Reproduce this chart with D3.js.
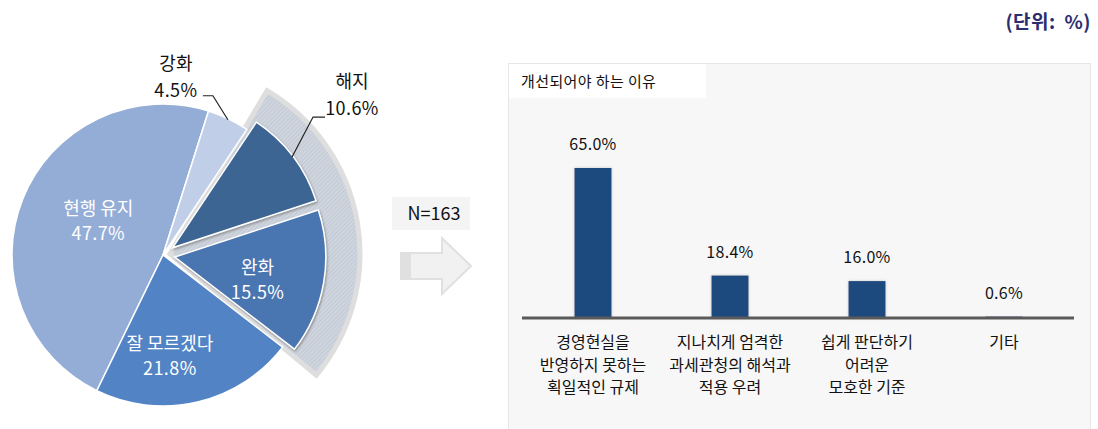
<!DOCTYPE html>
<html><head><meta charset="utf-8">
<script src="https://cdn.jsdelivr.net/npm/d3@7"></script>
<style>
body{margin:0;background:#fff;}
text{font-family:"Noto Sans CJK KR","Noto Sans",sans-serif;}
</style>
</head><body>
<svg id="c" width="1098" height="429"></svg>
<script>
// ---- data ----
const pieLabels = ["현행 유지", "강화", "해지", "완화", "잘 모르겠다"];
const pieValues = [47.7, 4.5, 10.6, 15.5, 21.8];
const barCategories = [
  ["경영현실을", "반영하지 못하는", "획일적인 규제"],
  ["지나치게 엄격한", "과세관청의 해석과", "적용 우려"],
  ["쉽게 판단하기", "어려운", "모호한 기준"],
  ["기타"]
];
const barValues = [65.0, 18.4, 16.0, 0.6];
const sampleLabel = "N=163";
const barTitle = "개선되어야 하는 이유";
const unitLabel = "(단위: %)";

// ---- style / layout ----
const pieColors = ["#94add6", "#c0cee8", "#3d6593", "#4874b0", "#5283c4"];
const explodedIdx = [2, 3];
const deg = Math.PI / 180;
const cx = 163, cy = 255, R = 151, explodeDist = 12;
const inside = {0: {r: 74, nudge: [4, -7]}, 3: {r: 86, nudge: [-2, 8]}, 4: {r: 100, nudge: [-16, 4]}};
const outside = {1: {elbow: [-15, -24], run: -10, tdx: -27, tdy: -5}, 2: {elbow: [21, -40], run: 12, tdx: 27, tdy: -8}};

const svg = d3.select("#c");
const defs = svg.append("defs");
const pat = defs.append("pattern").attr("id", "hatch").attr("patternUnits", "userSpaceOnUse")
  .attr("width", 3).attr("height", 3).attr("patternTransform", "rotate(45)");
pat.append("rect").attr("width", 3).attr("height", 3).attr("fill", "#cfd5de");
pat.append("line").attr("x1", 0).attr("y1", 0).attr("x2", 0).attr("y2", 3).attr("stroke", "#b7bfcb").attr("stroke-width", 1);
const sh = defs.append("filter").attr("id", "sh").attr("x", "-20%").attr("y", "-20%").attr("width", "140%").attr("height", "140%");
sh.append("feDropShadow").attr("dx", 1).attr("dy", 1.5).attr("stdDeviation", 1).attr("flood-color", "#666").attr("flood-opacity", 0.6);
const bsh = defs.append("filter").attr("id", "bsh").attr("x", "-30%").attr("y", "-10%").attr("width", "160%").attr("height", "120%");
bsh.append("feDropShadow").attr("dx", 0).attr("dy", 0).attr("stdDeviation", 1.5).attr("flood-color", "#999").attr("flood-opacity", 0.5);

// ---- pie ----
const pie = d3.pie().sort(null).startAngle(-154 * deg).endAngle(206 * deg);
const arcs = pie(pieValues);
const arc = d3.arc().innerRadius(0).outerRadius(R);
const mid = d => (d.startAngle + d.endAngle) / 2;
const offsetOf = (d, i) => explodedIdx.includes(i) ? [explodeDist * Math.sin(mid(d)), -explodeDist * Math.cos(mid(d))] : [0, 0];

const pg = svg.append("g").attr("transform", `translate(${cx},${cy})`);

// hatched band behind exploded slices
const ex0 = arcs[explodedIdx[0]], ex1 = arcs[explodedIdx[explodedIdx.length - 1]];
pg.append("path")
  .attr("transform", "translate(7,-1)")
  .attr("d", d3.arc().innerRadius(0).outerRadius(R + 39)({startAngle: ex0.startAngle - 3 * deg, endAngle: ex1.endAngle + 2 * deg}))
  .attr("fill", "url(#hatch)").attr("stroke", "#dedede").attr("stroke-width", 5).attr("stroke-linejoin", "miter");

pg.selectAll("path.slice").data(arcs).enter().append("path")
  .attr("class", "slice")
  .attr("transform", (d, i) => { const o = offsetOf(d, i); return `translate(${o[0]},${o[1]})`; })
  .attr("d", arc)
  .attr("fill", (d, i) => pieColors[i])
  .attr("stroke", "#fff").attr("stroke-width", 1.5)
  .attr("filter", (d, i) => explodedIdx.includes(i) ? "url(#sh)" : null);

// inside labels
arcs.forEach((d, i) => {
  const cfg = inside[i];
  if (!cfg) return;
  const o = offsetOf(d, i);
  const c = d3.arc().innerRadius(cfg.r).outerRadius(cfg.r).centroid(d);
  const x = c[0] + o[0] + cfg.nudge[0], y = c[1] + o[1] + cfg.nudge[1];
  const t = pg.append("text").attr("text-anchor", "middle").attr("fill", "#fff").attr("font-size", 18);
  t.append("tspan").attr("x", x).attr("y", y - 12 + 6).text(pieLabels[i]);
  t.append("tspan").attr("x", x).attr("y", y + 13 + 6).attr("letter-spacing", 0.4).text(d3.format(".1f")(pieValues[i]) + "%");
});

// outside labels with leaders
arcs.forEach((d, i) => {
  const cfg = outside[i];
  if (!cfg) return;
  const o = offsetOf(d, i);
  const a = d3.arc().innerRadius(R - 1).outerRadius(R - 1).centroid(d);
  const ax = a[0] + o[0], ay = a[1] + o[1];
  const ex = ax + cfg.elbow[0], ey = ay + cfg.elbow[1];
  const endx = ex + cfg.run;
  pg.append("path").attr("d", `M${ax},${ay}L${ex},${ey}L${endx},${ey}`)
    .attr("fill", "none").attr("stroke", "#222").attr("stroke-width", 1.2);
  const tx = endx + cfg.tdx, ty = ey + cfg.tdy;
  const t = pg.append("text").attr("text-anchor", "middle").attr("fill", "#111").attr("font-size", 18);
  t.append("tspan").attr("x", tx).attr("y", ty - 27 + 6).text(pieLabels[i]);
  t.append("tspan").attr("x", tx).attr("y", ty + 6).attr("letter-spacing", 0.4).text(d3.format(".1f")(pieValues[i]) + "%");
});

// ---- N label and arrow ----
svg.append("rect").attr("x", 392).attr("y", 197).attr("width", 78).attr("height", 33).attr("fill", "#f4f4f4");
svg.append("text").attr("x", 434).attr("y", 219.5).attr("text-anchor", "middle").attr("font-size", 18).attr("fill", "#111").text(sampleLabel);
svg.append("path").attr("d", "M401,253L442,253L442,238L471,266L442,294L442,279L401,279Z")
  .attr("fill", "#f1f1f1").attr("stroke", "#e0e0e0").attr("stroke-width", 2);
svg.append("rect").attr("x", 402).attr("y", 254).attr("width", 9).attr("height", 24).attr("fill", "#e0e0e0");

// ---- bar panel ----
svg.append("rect").attr("x", 508.5).attr("y", 63.5).attr("width", 582).attr("height", 380)
  .attr("fill", "#f7f7f7").attr("stroke", "#e6e6e6");
svg.append("rect").attr("x", 509).attr("y", 64).attr("width", 197).attr("height", 34).attr("fill", "#fff");
svg.append("text").attr("x", 521).attr("y", 87).attr("font-size", 15).attr("letter-spacing", 0.4).attr("fill", "#111").text(barTitle);

const xb = d3.scaleBand().domain(d3.range(barValues.length)).range([524.5, 1072.5]).paddingInner(0.73).paddingOuter(0.365);
const yb = d3.scaleLinear().domain([0, 65]).range([318, 168]);

svg.selectAll("rect.bar").data(barValues).enter().append("rect")
  .attr("class", "bar")
  .attr("x", (d, i) => xb(i)).attr("width", xb.bandwidth())
  .attr("y", d => yb(d)).attr("height", d => yb(0) - yb(d))
  .attr("fill", "#1f4a7e").attr("filter", "url(#bsh)");

const xAxis = d3.axisBottom(xb).tickSize(0).tickFormat("");
const ag = svg.append("g").attr("transform", `translate(0,${yb(0)})`).call(xAxis);
ag.select(".domain").attr("d", "M522,0H1074").attr("stroke", "#5a5a5a").attr("stroke-width", 3);

svg.selectAll("text.val").data(barValues).enter().append("text")
  .attr("class", "val")
  .attr("x", (d, i) => xb(i) + xb.bandwidth() / 2)
  .attr("y", d => yb(d) - 18)
  .attr("text-anchor", "middle").attr("font-size", 16).attr("letter-spacing", 0.3).attr("fill", "#111")
  .text(d => d3.format(".1f")(d) + "%");

barCategories.forEach((lines, i) => {
  const t = svg.append("text").attr("text-anchor", "middle").attr("font-size", 16).attr("fill", "#111");
  lines.forEach((ln, j) => {
    t.append("tspan").attr("x", xb(i) + xb.bandwidth() / 2).attr("y", yb(0) + 30 + j * 22.5).text(ln);
  });
});

// ---- unit label ----
svg.append("text").attr("x", 1091).attr("y", 29).attr("text-anchor", "end")
  .attr("font-size", 19).attr("font-weight", "bold").attr("word-spacing", 4).attr("letter-spacing", 0.5)
  .attr("fill", "#2b2d6e").text(unitLabel);
</script>
</body></html>
